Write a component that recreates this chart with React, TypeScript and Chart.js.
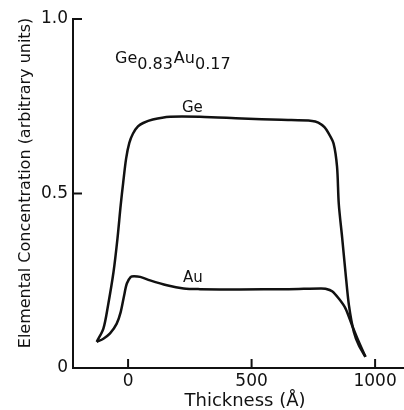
import React, { useEffect, useRef } from "react";
import { Chart, registerables } from "chart.js";

Chart.register(...registerables);

// ---- data ----
const geX = [-127, -100, -81, -59, -43, -30, -20, -8, 5, 20, 40, 61, 100, 170, 291, 461, 620, 745, 770, 795, 812, 832, 846, 853, 867, 880, 894, 914, 934, 961];
const geY = [0.075, 0.113, 0.18, 0.275, 0.371, 0.466, 0.53, 0.6, 0.645, 0.672, 0.692, 0.702, 0.712, 0.72, 0.72, 0.715, 0.711, 0.708, 0.703, 0.69, 0.672, 0.643, 0.576, 0.47, 0.371, 0.275, 0.18, 0.103, 0.065, 0.032];

const auX = [-127, -100, -73, -46, -30, -16, -5, 11, 24, 49, 89, 157, 225, 291, 450, 650, 780, 799, 826, 853, 880, 907, 934, 961];
const auY = [0.075, 0.084, 0.099, 0.127, 0.16, 0.208, 0.242, 0.261, 0.263, 0.261, 0.251, 0.237, 0.228, 0.226, 0.225, 0.226, 0.228, 0.227, 0.22, 0.199, 0.171, 0.122, 0.075, 0.032];

const xTicks = [0, 500, 1000];
const xTickLabels = ["0", "500", "1000"];
const yTicks = [0, 0.5, 1.0];
const yTickLabels = ["0", "0.5", "1.0"];

const xTitle = "Thickness (Å)";
const yTitle = "Elemental Concentration (arbitrary units)";

const formulaParts = ["Ge", "0.83", "Au", "0.17"]; // alternating normal / subscript
const formulaAnchor = [-53, 0.875];

const seriesNames = ["Ge", "Au"];
const seriesLabelAnchors = [
  [218, 0.733],
  [222, 0.246],
];

const FONT = "'DejaVu Sans', 'Liberation Sans', sans-serif";
const INK = "#111";

const textPlugin = {
  id: "textAndTicks",
  afterDraw(chart: any) {
    const { ctx, chartArea, scales } = chart;
    const x = scales.x;
    const y = scales.y;
    ctx.save();
    // inward tick marks
    ctx.strokeStyle = INK;
    ctx.lineWidth = 2;
    xTicks.forEach((v) => {
      const px = x.getPixelForValue(v);
      ctx.beginPath();
      ctx.moveTo(px, chartArea.bottom);
      ctx.lineTo(px, chartArea.bottom - 9);
      ctx.stroke();
    });
    yTicks.slice(1).forEach((v) => {
      const py = y.getPixelForValue(v);
      ctx.beginPath();
      ctx.moveTo(chartArea.left, py);
      ctx.lineTo(chartArea.left + 9, py);
      ctx.stroke();
    });

    ctx.fillStyle = INK;
    ctx.textBaseline = "alphabetic";
    ctx.textAlign = "left";

    // formula
    ctx.font = `16px ${FONT}`;
    let fx = x.getPixelForValue(formulaAnchor[0]);
    const fy = y.getPixelForValue(formulaAnchor[1]);
    formulaParts.forEach((t, i) => {
      const sub = i % 2 === 1;
      ctx.fillText(t, fx, sub ? fy + 6 : fy);
      fx += ctx.measureText(t).width + (sub ? 1 : 0);
    });

    // series labels
    ctx.font = `15px ${FONT}`;
    seriesNames.forEach((n, i) => {
      const a = seriesLabelAnchors[i];
      ctx.fillText(n, x.getPixelForValue(a[0]), y.getPixelForValue(a[1]));
    });

    // axis titles
    ctx.font = `18px ${FONT}`;
    ctx.textAlign = "center";
    ctx.fillText(xTitle, 245, 406);
    ctx.save();
    ctx.font = `16px ${FONT}`;
    ctx.translate(30, 183);
    ctx.rotate(-Math.PI / 2);
    ctx.fillText(yTitle, 0, 0);
    ctx.restore();

    ctx.restore();
  },
};

export default function App() {
  const ref = useRef<HTMLCanvasElement | null>(null);

  useEffect(() => {
    document.body.style.margin = "0";
    const canvas = ref.current;
    if (!canvas) return;
    const chart = new Chart(canvas, {
      type: "line",
      data: {
        datasets: [
          {
            label: seriesNames[0],
            data: geX.map((v, i) => ({ x: v, y: geY[i] })),
            borderColor: INK,
            borderWidth: 2.5,
            pointRadius: 0,
            tension: 0.3,
            fill: false,
          },
          {
            label: seriesNames[1],
            data: auX.map((v, i) => ({ x: v, y: auY[i] })),
            borderColor: INK,
            borderWidth: 2.5,
            pointRadius: 0,
            tension: 0.3,
            fill: false,
          },
        ],
      },
      options: {
        responsive: false,
        animation: false,
        devicePixelRatio: 1,
        layout: { padding: { top: 19, right: 0, left: 0, bottom: 0 } },
        plugins: { legend: { display: false }, tooltip: { enabled: false } },
        scales: {
          x: {
            type: "linear",
            min: -223,
            max: 1117,
            afterBuildTicks: (s: any) => {
              s.ticks = xTicks.map((v) => ({ value: v }));
            },
            afterFit: (s: any) => {
              s.height = 42;
            },
            ticks: {
              autoSkip: false,
              maxRotation: 0,
              padding: 3,
              color: INK,
              font: { family: FONT, size: 17 },
              callback: (v: any) => {
                const i = xTicks.indexOf(Number(v));
                return i >= 0 ? xTickLabels[i] : "";
              },
            },
            grid: { drawOnChartArea: false, drawTicks: false },
            border: { display: true, color: INK, width: 2 },
          },
          y: {
            type: "linear",
            min: 0,
            max: 1.0,
            afterBuildTicks: (s: any) => {
              s.ticks = yTicks.map((v) => ({ value: v }));
            },
            afterFit: (s: any) => {
              s.width = 73;
            },
            ticks: {
              autoSkip: false,
              padding: 5,
              color: INK,
              font: { family: FONT, size: 17 },
              callback: (v: any) => {
                const i = yTicks.indexOf(Number(v));
                return i >= 0 ? yTickLabels[i] : "";
              },
            },
            grid: { drawOnChartArea: false, drawTicks: false },
            border: { display: true, color: INK, width: 2 },
          },
        },
      },
      plugins: [textPlugin],
    } as any);
    return () => chart.destroy();
  }, []);

  return (
    <div style={{ position: "absolute", left: 0, top: 0, width: 404, height: 410, overflow: "hidden", background: "#fff" }}>
      <canvas ref={ref} width={404} height={410} style={{ display: "block" }} />
    </div>
  );
}
